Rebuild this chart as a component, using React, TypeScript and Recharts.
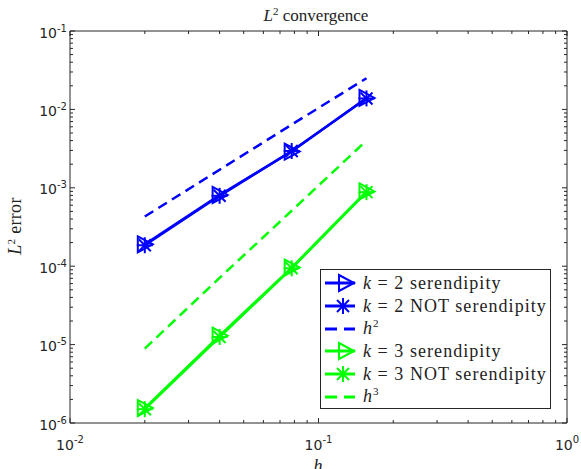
import React from "react";
import { CartesianGrid, Legend, Line, LineChart, XAxis, YAxis } from "recharts";

// mesh size h and L2 errors
const hValues = [0.02, 0.04, 0.078, 0.156];
const k2Serendipity = [1.9e-4, 8.1e-4, 2.9e-3, 1.4e-2];
const k2NotSerendipity = [1.85e-4, 7.9e-4, 2.95e-3, 1.38e-2];
const h2Reference = [4.3e-4, 1.7e-3, 6.4e-3, 2.5e-2];
const k3Serendipity = [1.55e-6, 1.3e-5, 9.6e-5, 9.0e-4];
const k3NotSerendipity = [1.5e-6, 1.25e-5, 9.4e-5, 8.8e-4];
const h3Reference = [8.9e-6, 7.1e-5, 5.1e-4, 4.0e-3];

const xTickValues = [
  0.01, 0.02, 0.03, 0.04, 0.05, 0.06, 0.07, 0.08, 0.09,
  0.1, 0.2, 0.3, 0.4, 0.5, 0.6, 0.7, 0.8, 0.9, 1,
];
const yTickValues = [
  1e-6, 2e-6, 3e-6, 4e-6, 5e-6, 6e-6, 7e-6, 8e-6, 9e-6,
  1e-5, 2e-5, 3e-5, 4e-5, 5e-5, 6e-5, 7e-5, 8e-5, 9e-5,
  1e-4, 2e-4, 3e-4, 4e-4, 5e-4, 6e-4, 7e-4, 8e-4, 9e-4,
  1e-3, 2e-3, 3e-3, 4e-3, 5e-3, 6e-3, 7e-3, 8e-3, 9e-3,
  1e-2, 2e-2, 3e-2, 4e-2, 5e-2, 6e-2, 7e-2, 8e-2, 9e-2,
  1e-1,
];

const data = hValues.map((h, i) => ({
  h,
  k2s: k2Serendipity[i],
  k2n: k2NotSerendipity[i],
  h2: h2Reference[i],
  k3s: k3Serendipity[i],
  k3n: k3NotSerendipity[i],
  h3: h3Reference[i],
}));

const W = 581;
const H = 469;
const MARGIN = { top: 31, right: 14, left: 0, bottom: 0 };
const Y_AXIS_W = 70;
const X_AXIS_H = 46;
const PLOT_W = W - MARGIN.left - MARGIN.right - Y_AXIS_W;
const PLOT_H = H - MARGIN.top - MARGIN.bottom - X_AXIS_H;

const AXIS = "#262626";
const BLUE = "#0000ff";
const GREEN = "#00ff00";
const SERIF = "'Liberation Serif', serif";
const SANS = "'DejaVu Sans', sans-serif";

const isDecade = (v: number) => Math.abs(Math.log10(v) - Math.round(Math.log10(v))) < 1e-9;

const Triangle = ({ cx, cy, color }: { cx: number; cy: number; color: string }) => (
  <polygon
    points={`${cx - 7},${cy - 8} ${cx + 8},${cy} ${cx - 7},${cy + 8}`}
    fill="none"
    stroke={color}
    strokeWidth={2}
  />
);

const Asterisk = ({ cx, cy, color }: { cx: number; cy: number; color: string }) => (
  <g stroke={color} strokeWidth={2}>
    <line x1={cx - 8} y1={cy} x2={cx + 8} y2={cy} />
    <line x1={cx} y1={cy - 8} x2={cx} y2={cy + 8} />
    <line x1={cx - 6} y1={cy - 6} x2={cx + 6} y2={cy + 6} />
    <line x1={cx - 6} y1={cy + 6} x2={cx + 6} y2={cy - 6} />
  </g>
);

type SeriesCfg = {
  key: string;
  color: string;
  marker: "triangle" | "asterisk" | null;
  label: React.ReactNode;
};

const sup = { fontSize: 11, lineHeight: 0, letterSpacing: 0 };

const series: SeriesCfg[] = [
  { key: "k2s", color: BLUE, marker: "triangle", label: <><i>k</i> = 2 serendipity</> },
  { key: "k2n", color: BLUE, marker: "asterisk", label: <><i>k</i> = 2 NOT serendipity</> },
  { key: "h2", color: BLUE, marker: null, label: <><i>h</i><sup style={sup}>2</sup></> },
  { key: "k3s", color: GREEN, marker: "triangle", label: <><i>k</i> = 3 serendipity</> },
  { key: "k3n", color: GREEN, marker: "asterisk", label: <><i>k</i> = 3 NOT serendipity</> },
  { key: "h3", color: GREEN, marker: null, label: <><i>h</i><sup style={sup}>3</sup></> },
];

const XTick = (props: any) => {
  const { x, y, payload } = props;
  const major = isDecade(payload.value);
  const len = major ? 5 : 3;
  const exp = Math.round(Math.log10(payload.value));
  return (
    <g>
      <line x1={x} x2={x} y1={y} y2={y - len} stroke={AXIS} />
      <line x1={x} x2={x} y1={y - PLOT_H} y2={y - PLOT_H + len} stroke={AXIS} />
      {major && (
        <text x={x} y={y + 27} textAnchor="middle" fontFamily={SANS} fontSize={14} fill={AXIS}>
          10
          <tspan dy={-7} fontSize={10}>{exp}</tspan>
        </text>
      )}
    </g>
  );
};

const YTick = (props: any) => {
  const { x, y, payload } = props;
  const major = isDecade(payload.value);
  const len = major ? 5 : 3;
  const exp = Math.round(Math.log10(payload.value));
  return (
    <g>
      <line x1={x} x2={x + len} y1={y} y2={y} stroke={AXIS} />
      <line x1={x + PLOT_W} x2={x + PLOT_W - len} y1={y} y2={y} stroke={AXIS} />
      {major && (
        <text x={x - 3} y={y + 6.5} textAnchor="end" fontFamily={SANS} fontSize={14} fill={AXIS}>
          10
          <tspan dy={-6} fontSize={10}>{exp}</tspan>
        </text>
      )}
    </g>
  );
};

// legend rows follow the plotting order, not recharts' sorted payload
const LegendBox = (props: any) => {
  const keys = new Set((props.payload || []).map((e: any) => e.dataKey));
  return (
    <div
      style={{
        width: 231,
        height: 140,
        boxSizing: "border-box",
        border: `1px solid ${AXIS}`,
        background: "#fff",
        paddingTop: 2,
        fontFamily: SERIF,
        fontSize: 18,
        letterSpacing: 1.05,
        color: "#222",
      }}
    >
      {series
        .filter((cfg) => keys.has(cfg.key))
        .map((cfg) => (
          <div key={cfg.key} style={{ display: "flex", alignItems: "center", height: 22.7, whiteSpace: "nowrap" }}>
            <svg width={34} height={22} style={{ marginLeft: 4, flex: "none" }}>
              <line
                x1={0}
                x2={30}
                y1={11}
                y2={11}
                stroke={cfg.color}
                strokeWidth={3}
                strokeDasharray={cfg.marker ? undefined : "12 7"}
              />
              {cfg.marker === "triangle" && <Triangle cx={21} cy={11} color={cfg.color} />}
              {cfg.marker === "asterisk" && <Asterisk cx={18} cy={11} color={cfg.color} />}
            </svg>
            <span style={{ marginLeft: 4, fontFamily: SERIF }}>{cfg.label}</span>
          </div>
        ))}
    </div>
  );
};

const renderDot = (cfg: SeriesCfg) => (p: any) => {
  if (p.cx == null || p.cy == null) return <g key={`${cfg.key}-${p.index}`} />;
  return cfg.marker === "triangle" ? (
    <Triangle key={`${cfg.key}-${p.index}`} cx={p.cx} cy={p.cy} color={cfg.color} />
  ) : (
    <Asterisk key={`${cfg.key}-${p.index}`} cx={p.cx} cy={p.cy} color={cfg.color} />
  );
};

export default function App() {
  return (
    <div style={{ position: "absolute", left: 0, top: 0, width: W, height: H, background: "#fff" }}>
      <LineChart width={W} height={H} data={data} margin={MARGIN}>
        <CartesianGrid
          stroke={AXIS}
          horizontalCoordinatesGenerator={({ offset }: any) => [offset.top]}
          verticalCoordinatesGenerator={({ offset }: any) => [offset.left + offset.width]}
        />
        <XAxis
          dataKey="h"
          type="number"
          scale="log"
          domain={[0.01, 1]}
          allowDataOverflow
          ticks={xTickValues}
          interval={0}
          tickSize={0}
          tickMargin={0}
          tickLine={false}
          axisLine={{ stroke: AXIS }}
          height={X_AXIS_H}
          tick={(p: any) => <XTick {...p} />}
        />
        <YAxis
          type="number"
          scale="log"
          domain={[1e-6, 0.1]}
          allowDataOverflow
          ticks={yTickValues}
          interval={0}
          tickSize={0}
          tickMargin={0}
          tickLine={false}
          axisLine={{ stroke: AXIS }}
          width={Y_AXIS_W}
          tick={(p: any) => <YTick {...p} />}
        />
        {series.map((cfg) => (
          <Line
            key={cfg.key}
            dataKey={cfg.key}
            stroke={cfg.color}
            strokeWidth={2.5}
            strokeDasharray={cfg.marker ? undefined : "10 6"}
            dot={cfg.marker ? renderDot(cfg) : false}
            activeDot={false}
            isAnimationActive={false}
          />
        ))}
        <Legend
          layout="vertical"
          align="center"
          verticalAlign="middle"
          wrapperStyle={{ left: 320, top: 269, width: 231 }}
          content={(p: any) => <LegendBox {...p} />}
        />
      </LineChart>
      <svg
        width={W}
        height={H}
        style={{ position: "absolute", left: 0, top: 0, pointerEvents: "none" }}
      >
        <text x={316} y={21} textAnchor="middle" fontFamily={SERIF} fontSize={17} fill="#222">
          <tspan fontStyle="italic">L</tspan>
          <tspan dy={-6} fontSize={11}>2</tspan>
          <tspan dy={6}>{"\u00a0convergence"}</tspan>
        </text>
        <text x={318} y={472} textAnchor="middle" fontFamily={SERIF} fontSize={18} fontStyle="italic" fill="#222">
          h
        </text>
        <text
          transform={`translate(21, 226) rotate(-90)`}
          textAnchor="middle"
          fontFamily={SERIF}
          fontSize={18}
          letterSpacing={0.3}
          fill="#222"
        >
          <tspan fontStyle="italic">L</tspan>
          <tspan dy={-6} fontSize={11}>2</tspan>
          <tspan dy={6}>{"\u00a0error"}</tspan>
        </text>
      </svg>
    </div>
  );
}
